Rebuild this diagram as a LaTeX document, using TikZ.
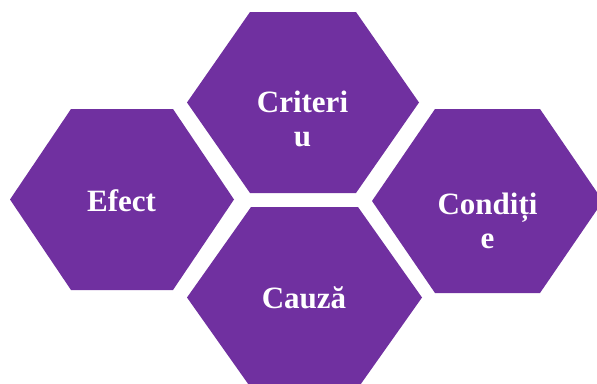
\documentclass[tikz,border=0pt]{standalone}
\usepackage{fontspec}
\setmainfont{Liberation Serif}
\definecolor{hexpurple}{HTML}{7030A0}
\newcommand\hexshape[5]{% cx, cy, half width, half top edge, half height
  \fill[hexfill] (#1-#3,#2) -- (#1-#4,#2-#5) -- (#1+#4,#2-#5) -- (#1+#3,#2) -- (#1+#4,#2+#5) -- (#1-#4,#2+#5) -- cycle;}
\begin{document}
\begin{tikzpicture}[x=1pt,y=-1pt,
  hexfill/.style={fill=hexpurple},
  lbl/.style={text=white,font=\bfseries\fontsize{31}{34}\selectfont,align=center,inner sep=0pt}]
\useasboundingbox (0,0) rectangle (597,383);
\clip (0,0) rectangle (597,383);
\hexshape{303}{102.5}{116}{53}{90.5}
\hexshape{122}{199.5}{112}{51}{90.5}
\hexshape{487.5}{201}{115.5}{52.5}{92}
\hexshape{304.5}{297.5}{117.5}{53.5}{90.5}
\node[lbl,anchor=center] (criteriu) at (302.5,119.3) {Criteri\\u};
\node[lbl,anchor=base] (efect) at (121.5,211) {Efect};
\node[lbl,anchor=center] (conditie) at (487.5,221.3) {Condiți\\e};
\node[lbl,anchor=base] (cauza) at (304,308) {Cauză};
\end{tikzpicture}
\end{document}
